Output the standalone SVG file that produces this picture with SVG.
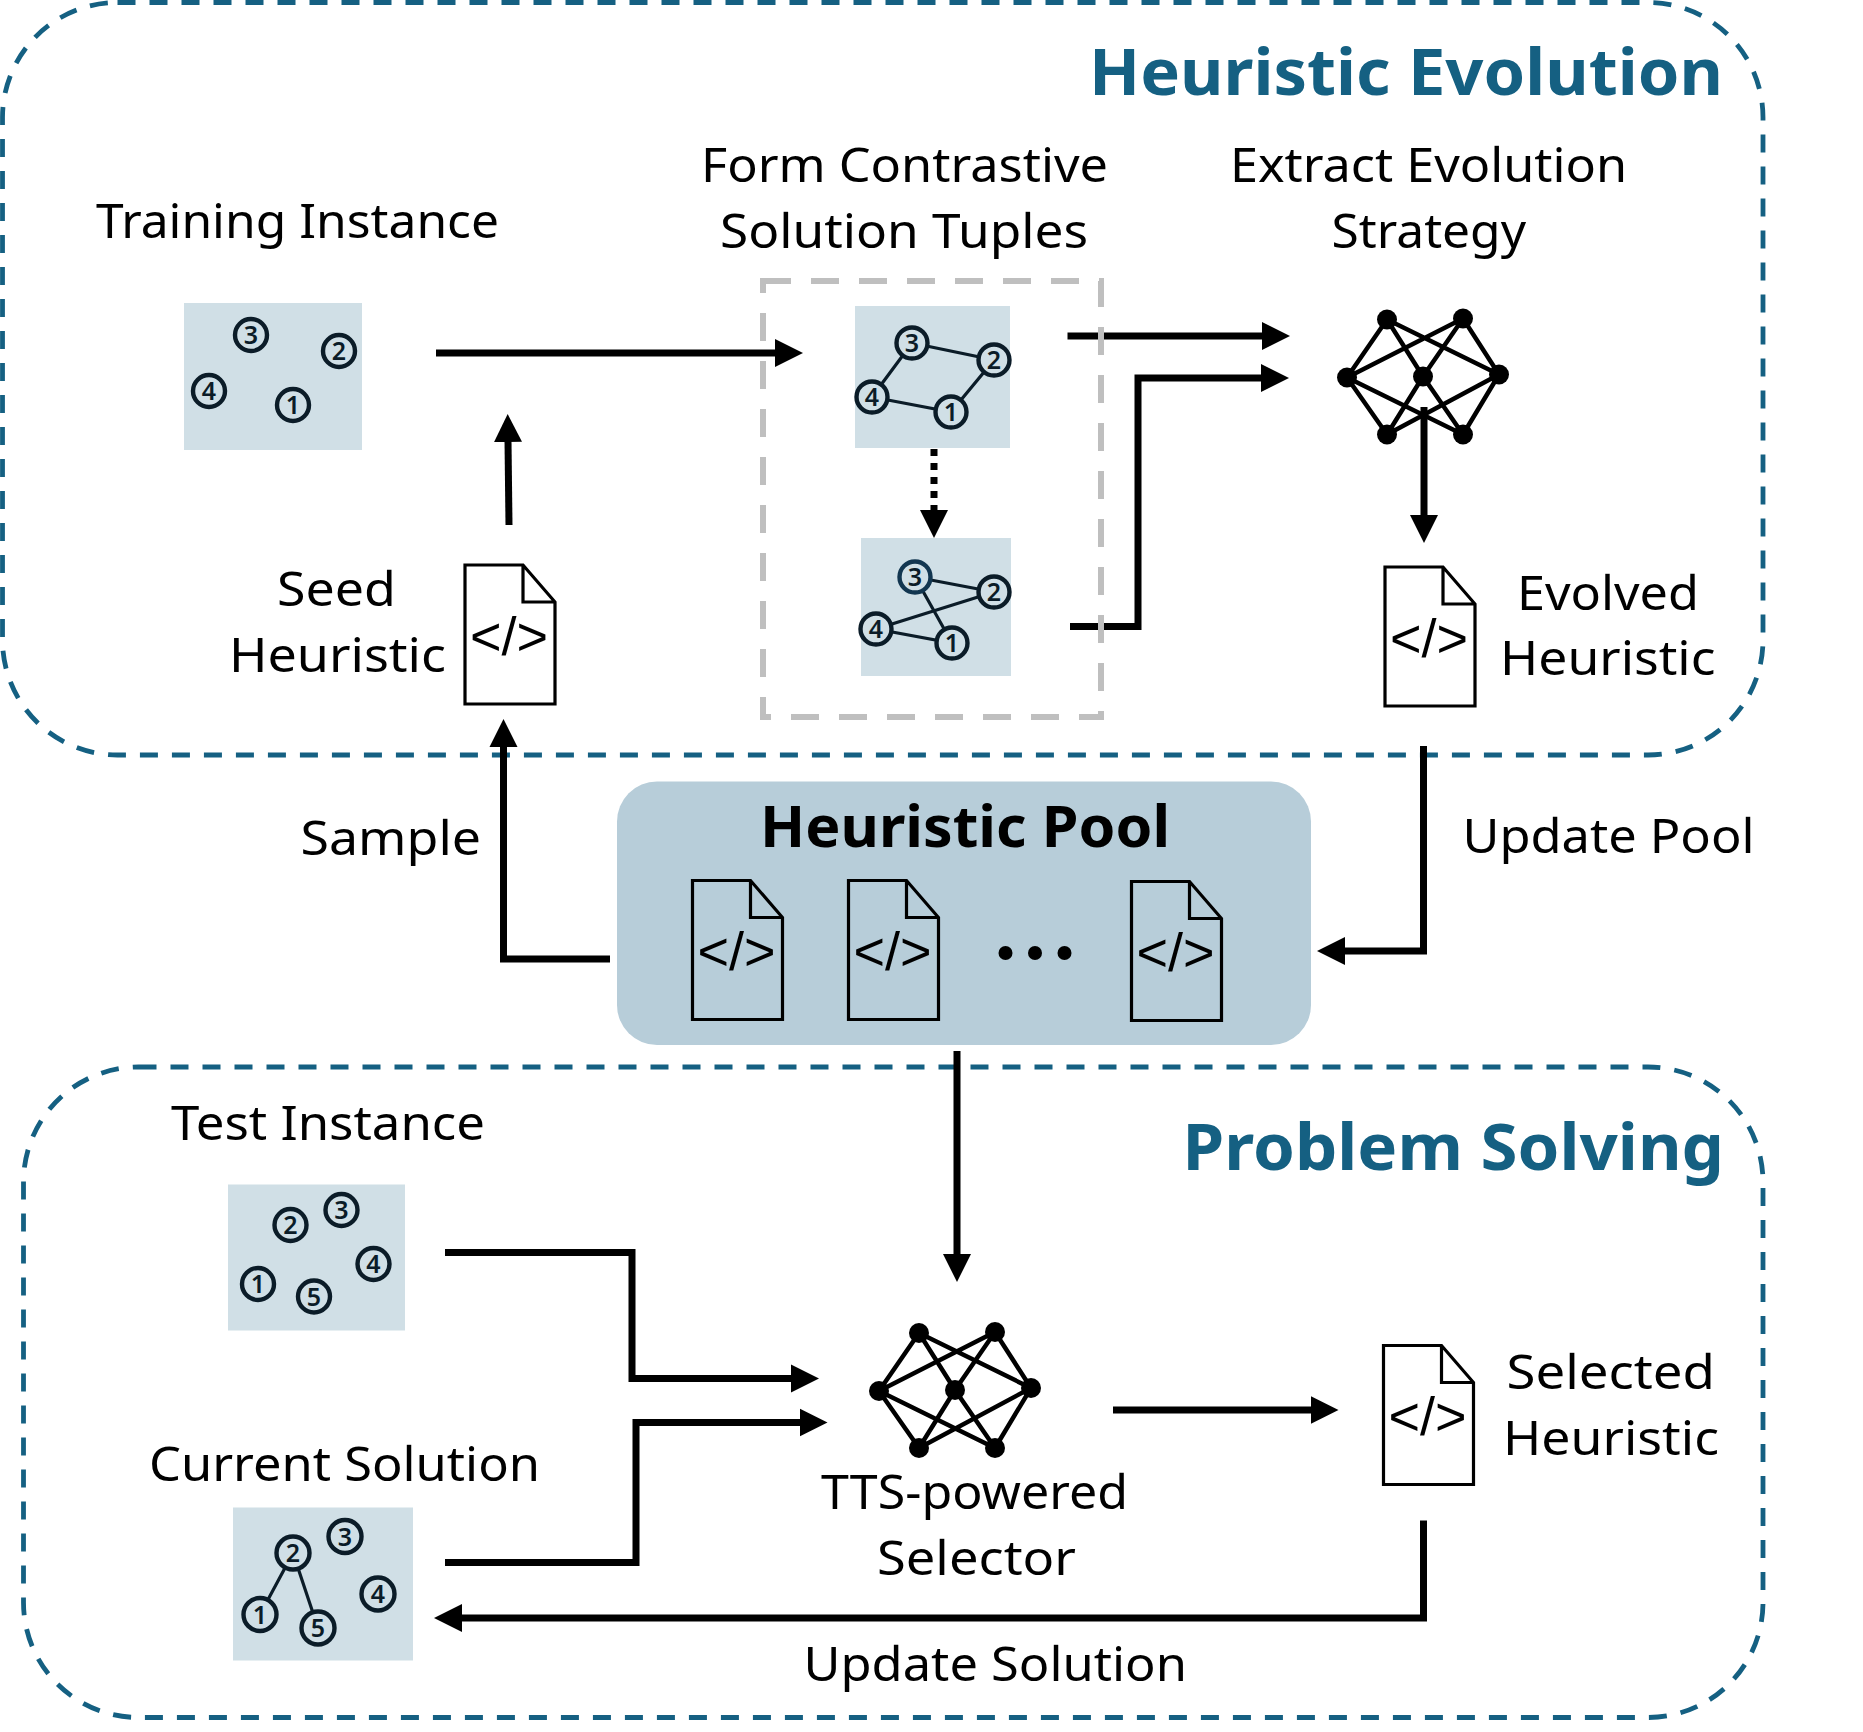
<svg xmlns="http://www.w3.org/2000/svg" width="1863" height="1732" viewBox="0 0 1863 1732">
<style>
.panel{fill:none;stroke:#156082;stroke-width:4.8;stroke-dasharray:18 14}
.t{font-family:"Noto Sans","Liberation Sans",sans-serif;font-size:48px;fill:#000}
.title{font-family:"Noto Sans","Liberation Sans",sans-serif;font-size:65px;font-weight:700;fill:#156082}
.b{font-family:"Noto Sans","Liberation Sans",sans-serif;font-size:57px;font-weight:700;fill:#000}
.code{font-family:"Liberation Sans",sans-serif;font-size:54px;fill:#000;text-anchor:middle}
.inst{fill:#D0DFE6}
.n{fill:#D0DFE6;stroke:#0B1C28;stroke-width:4.4}
.d{font-family:"Noto Sans","Liberation Sans",sans-serif;font-size:25px;font-weight:600;fill:#0B1C28;text-anchor:middle}
.e{stroke:#0B1C28;stroke-width:3.2;fill:none}
.doc{fill:none;stroke:#000;stroke-width:3.2}
.c{fill:none;stroke:#000;stroke-width:7;marker-end:url(#ah)}
</style>
<defs>
<marker id="ah" markerUnits="userSpaceOnUse" markerWidth="29" markerHeight="29" refX="1" refY="14.500" orient="auto" viewBox="0 0 29 29"><path d="M0 0.5L28 14.500L0 28.500Z" fill="#000"/></marker>
<path id="docshape" d="M0 0H58L90 37V139H0ZM58 0V37H90"/>
<g id="net">
<path stroke="#000" stroke-width="4.5" fill="none" d="M1387 319L1347 377M1387 319L1423 376M1387 319L1499 374M1463 318L1347 377M1463 318L1423 376M1463 318L1499 374M1347 377L1387 434M1347 377L1463 434M1423 376L1387 434M1423 376L1463 434M1499 374L1387 434M1499 374L1463 434"/>
<g fill="#000"><circle cx="1387" cy="319" r="10"/><circle cx="1463" cy="318" r="10"/><circle cx="1347" cy="377" r="10"/><circle cx="1423" cy="376" r="10"/><circle cx="1499" cy="374" r="10"/><circle cx="1387" cy="434" r="10"/><circle cx="1463" cy="434" r="10"/></g>
</g>
</defs>
<rect width="1863" height="1732" fill="#fff"/>
<g id="panel-evolution">
<rect class="panel" x="2.5" y="2.5" width="1760.5" height="752.5" rx="115" ry="115"/>
<text class="title" x="1089" y="95" textLength="634" lengthAdjust="spacingAndGlyphs">Heuristic Evolution</text>
</g>
<g id="panel-solving">
<rect class="panel" x="23.5" y="1067" width="1739.5" height="650.5" rx="115" ry="115"/>
<text class="title" x="1182.500" y="1170" textLength="541.500" lengthAdjust="spacingAndGlyphs">Problem Solving</text>
</g>
<g id="training-instance">
<text class="t" x="96" y="237.500" textLength="403" lengthAdjust="spacingAndGlyphs">Training Instance</text>
<rect class="inst" x="184" y="303" width="178" height="147"/>
<circle class="n" cx="251" cy="335" r="16"/><text class="d" x="251" y="344">3</text>
<circle class="n" cx="339" cy="351" r="16"/><text class="d" x="339" y="360">2</text>
<circle class="n" cx="209" cy="391" r="16"/><text class="d" x="209" y="400">4</text>
<circle class="n" cx="293" cy="405" r="16"/><text class="d" x="293" y="414">1</text>
</g>
<g id="contrastive-tuples">
<text class="t" x="701" y="181.500" textLength="407" lengthAdjust="spacingAndGlyphs">Form Contrastive</text>
<text class="t" x="720" y="247.500" textLength="368" lengthAdjust="spacingAndGlyphs">Solution Tuples</text>
<rect class="inst" x="855" y="306" width="155" height="142"/>
<path class="e" d="M912 343L994 360L951 412L872 397Z"/>
<circle class="n" cx="912" cy="343" r="15.500"/><text class="d" x="912" y="352">3</text>
<circle class="n" cx="994" cy="360" r="15.500"/><text class="d" x="994" y="369">2</text>
<circle class="n" cx="872" cy="397" r="15.500"/><text class="d" x="872" y="406">4</text>
<circle class="n" cx="951" cy="412" r="15.500"/><text class="d" x="951" y="421">1</text>
<rect class="inst" x="861" y="538" width="150" height="138"/>
<path class="e" d="M915 577L994 592L876 629L952 643L915 577"/>
<circle class="n" cx="915" cy="577" r="15.500" style="stroke:#123650"/><text class="d" x="915" y="586">3</text>
<circle class="n" cx="994" cy="592" r="15.500"/><text class="d" x="994" y="601">2</text>
<circle class="n" cx="876" cy="629" r="15.500"/><text class="d" x="876" y="638">4</text>
<circle class="n" cx="952" cy="643" r="15.500"/><text class="d" x="952" y="652">1</text>
</g>
<g id="extract-strategy">
<text class="t" x="1230" y="181.500" textLength="397" lengthAdjust="spacingAndGlyphs">Extract Evolution</text>
<text class="t" x="1331.500" y="247.500" textLength="194.500" lengthAdjust="spacingAndGlyphs">Strategy</text>
<use href="#net" transform="translate(0 0.500)"/>
</g>
<g id="seed-heuristic">
<text class="t" x="277" y="605.500" textLength="119" lengthAdjust="spacingAndGlyphs">Seed</text>
<text class="t" x="229" y="672" textLength="217" lengthAdjust="spacingAndGlyphs">Heuristic</text>
<use href="#docshape" class="doc" x="465" y="565"/>
<text class="code" x="509" y="655">&lt;/&gt;</text>
</g>
<g id="evolved-heuristic">
<text class="t" x="1517" y="609.500" textLength="182" lengthAdjust="spacingAndGlyphs">Evolved</text>
<text class="t" x="1500" y="675" textLength="215.500" lengthAdjust="spacingAndGlyphs">Heuristic</text>
<use href="#docshape" class="doc" x="1385" y="567"/>
<text class="code" x="1429" y="657">&lt;/&gt;</text>
</g>
<g id="heuristic-pool">
<rect x="617" y="781.500" width="694" height="263.500" rx="40" ry="40" fill="#B7CDD9"/>
<text class="b" x="760" y="847" textLength="410" lengthAdjust="spacingAndGlyphs">Heuristic Pool</text>
<use href="#docshape" class="doc" x="692.500" y="880.500"/>
<text class="code" x="736.500" y="970">&lt;/&gt;</text>
<use href="#docshape" class="doc" x="848.500" y="880.500"/>
<text class="code" x="892.500" y="970">&lt;/&gt;</text>
<circle cx="1005.500" cy="953" r="7"/><circle cx="1035" cy="953" r="7"/><circle cx="1064.500" cy="953" r="7"/>
<use href="#docshape" class="doc" x="1131.500" y="881.500"/>
<text class="code" x="1175.500" y="970.500">&lt;/&gt;</text>
</g>
<g id="test-instance">
<text class="t" x="171" y="1139.500" textLength="314" lengthAdjust="spacingAndGlyphs">Test Instance</text>
<rect class="inst" x="228" y="1184.500" width="177" height="146"/>
<circle class="n" cx="341.500" cy="1210" r="16"/><text class="d" x="341.500" y="1219">3</text>
<circle class="n" cx="290.500" cy="1225" r="16"/><text class="d" x="290.500" y="1234">2</text>
<circle class="n" cx="373.500" cy="1264" r="16"/><text class="d" x="373.500" y="1273">4</text>
<circle class="n" cx="258" cy="1284" r="16"/><text class="d" x="258" y="1293">1</text>
<circle class="n" cx="314" cy="1296.500" r="16"/><text class="d" x="314" y="1305.500">5</text>
</g>
<g id="current-solution">
<text class="t" x="149" y="1480.500" textLength="391" lengthAdjust="spacingAndGlyphs">Current Solution</text>
<rect class="inst" x="233" y="1507.500" width="180" height="153"/>
<path class="e" d="M260 1614.500L293 1553L318 1628"/>
<circle class="n" cx="345" cy="1536.500" r="16.500"/><text class="d" x="345" y="1545.500">3</text>
<circle class="n" cx="293" cy="1553" r="16.500"/><text class="d" x="293" y="1562">2</text>
<circle class="n" cx="378" cy="1594" r="16.500"/><text class="d" x="378" y="1603">4</text>
<circle class="n" cx="260" cy="1614.500" r="16.500"/><text class="d" x="260" y="1623.500">1</text>
<circle class="n" cx="318" cy="1628" r="16.500"/><text class="d" x="318" y="1637">5</text>
</g>
<g id="tts-selector">
<use href="#net" transform="translate(-468 1014)"/>
<text class="t" x="821" y="1509" textLength="307" lengthAdjust="spacingAndGlyphs">TTS-powered</text>
<text class="t" x="877" y="1575" textLength="199" lengthAdjust="spacingAndGlyphs">Selector</text>
</g>
<g id="selected-heuristic">
<use href="#docshape" class="doc" x="1383.500" y="1345.500"/>
<text class="code" x="1427.500" y="1435">&lt;/&gt;</text>
<text class="t" x="1506.500" y="1389" textLength="208.500" lengthAdjust="spacingAndGlyphs">Selected</text>
<text class="t" x="1503" y="1455" textLength="216" lengthAdjust="spacingAndGlyphs">Heuristic</text>
</g>
<g id="connectors">
<path class="c" d="M436 353H776"/>
<path class="c" d="M509 525L508 441"/>
<path class="c" d="M610 959H503.500V746"/>
<path class="c" d="M1067.500 336H1263"/>
<path class="c" d="M1070 626.500H1138V378H1262"/>
<path class="c" style="stroke-dasharray:7 7" d="M934 449V511"/>
<path class="c" d="M1424 407V516"/>
<path class="c" d="M1423.500 746V951H1344"/>
<path class="c" d="M957 1051V1255"/>
<path class="c" d="M445 1252.500H632V1378.500H792"/>
<path class="c" d="M445 1562.500H636V1422.500H800.500"/>
<path class="c" d="M1113 1410H1311.500"/>
<path class="c" d="M1423.500 1520.500V1618H461"/>
<text class="t" x="300.500" y="854.500" textLength="180.500" lengthAdjust="spacingAndGlyphs">Sample</text>
<text class="t" x="1462.500" y="852.500" textLength="292" lengthAdjust="spacingAndGlyphs">Update Pool</text>
<text class="t" x="803.500" y="1680.500" textLength="383.500" lengthAdjust="spacingAndGlyphs">Update Solution</text>
</g>
<g id="contrastive-frame">
<rect x="763" y="281" width="338" height="436" fill="none" stroke="#BFBFBF" stroke-width="6" stroke-dasharray="28 20"/>
</g>
</svg>
